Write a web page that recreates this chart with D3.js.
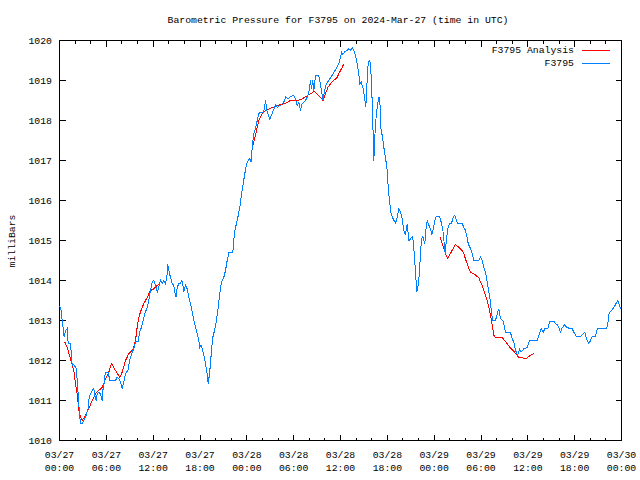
<!DOCTYPE html>
<html>
<head>
<meta charset="utf-8">
<script src="https://cdn.jsdelivr.net/npm/d3@7/dist/d3.min.js"></script>
<style>
  html, body { margin: 0; padding: 0; background: #fff; }
  svg text { font-family: "Liberation Mono", "DejaVu Sans Mono", monospace; font-size: 9.8px; fill: #000; }
</style>
</head>
<body>
<svg id="chart" width="640" height="480"></svg>
<script>
// ---- Data (hours since 2024-03-27 00:00 UTC) ----
const blueHours = [0,0.17,0.35,0.60,0.77,0.99,1.11,1.41,1.63,1.83,2.14,2.27,2.47,2.60,2.73,2.91,3.33,3.68,3.75,3.88,4.19,4.39,4.52,4.70,4.83,5.03,5.25,5.47,5.55,5.68,5.80,5.98,6.24,6.44,7.17,7.39,7.60,7.81,8.03,8.24,8.46,8.80,8.97,9.31,9.52,9.74,10.08,10.25,10.51,10.72,10.93,11.24,11.44,11.66,11.88,12.08,12.30,12.52,12.72,12.94,13.16,13.36,13.58,13.80,13.87,14.05,14.22,14.44,14.64,14.77,14.95,15.08,15.28,15.50,15.67,15.85,15.92,16.14,16.36,16.56,16.78,17.00,17.21,17.42,17.64,17.85,17.97,18.15,18.28,18.49,18.70,18.92,19.05,19.22,19.34,19.47,19.64,19.86,20.11,20.33,20.54,20.75,21.05,21.27,21.48,21.69,22.20,22.33,22.46,22.77,23.10,23.32,23.53,23.74,23.96,24.17,24.38,24.56,24.69,24.89,25.11,25.33,25.53,25.75,26.17,26.39,26.61,26.94,27.25,27.67,27.89,28.31,28.74,28.99,29.30,29.59,30.02,30.23,30.45,30.66,30.87,31.09,31.52,31.73,31.94,32.16,32.28,32.45,32.58,32.80,33.22,33.44,33.65,33.78,33.95,34.21,34.50,34.94,35.14,35.45,35.78,36.00,36.13,36.29,36.51,36.86,37.06,37.28,37.50,37.70,37.92,38.14,38.34,38.47,38.65,38.91,39.07,39.24,39.33,39.50,39.68,39.84,39.97,40.10,40.19,40.27,40.36,40.48,40.70,40.91,41.03,41.16,41.38,41.55,41.76,41.98,42.06,42.19,42.32,42.49,42.75,43.05,43.26,43.47,43.69,43.90,44.11,44.33,44.46,44.55,44.75,44.97,45.19,45.32,45.48,45.61,45.78,45.95,46.12,46.25,46.38,46.54,46.67,46.80,46.93,47.11,47.32,47.53,47.70,47.88,48.04,48.26,48.68,48.90,49.10,49.23,49.41,49.58,49.75,49.96,50.22,50.44,50.64,50.86,51.03,51.59,51.80,52.01,52.23,52.36,52.65,52.87,53.08,53.72,53.93,54.15,54.36,54.58,54.79,55.00,55.22,55.35,55.51,55.86,56.08,56.28,56.50,56.84,57.14,57.78,57.99,58.20,58.42,58.71,58.93,59.15,59.48,59.92,60.21,61.20,61.41,61.71,61.97,62.17,62.56,62.81,63.33,63.54,63.84,64.18,64.40,64.70,65.04,65.68,65.89,66.23,66.75,67.09,67.30,67.51,67.81,68.03,68.25,68.67,68.89,70.08,70.24,70.42,70.72,71.01,71.23,71.52,71.74,71.87];
const bluePressure = [1013.35,1013.3,1013.0,1012.58,1012.75,1012.8,1012.42,1012.42,1011.88,1011.9,1011.8,1011.5,1010.92,1010.58,1010.42,1010.42,1010.58,1010.8,1011.0,1011.12,1011.25,1011.3,1011.12,1011.0,1011.17,1011.2,1011.17,1011.0,1011.25,1011.38,1011.62,1011.71,1011.71,1011.5,1011.5,1011.58,1011.55,1011.46,1011.3,1011.46,1011.67,1011.77,1012.0,1012.21,1012.29,1012.47,1012.47,1012.71,1012.83,1013.0,1013.17,1013.33,1013.5,1013.75,1013.96,1014.0,1013.88,1013.71,1013.83,1014.0,1013.92,1014.0,1013.92,1014.17,1014.4,1014.21,1014.08,1013.92,1013.88,1013.71,1013.58,1013.83,1013.92,1013.93,1014.0,1013.83,1013.71,1013.88,1013.79,1013.58,1013.42,1013.21,1013.0,1012.83,1012.67,1012.5,1012.33,1012.38,1012.29,1012.13,1011.92,1011.67,1011.42,1011.67,1011.92,1012.25,1012.58,1012.75,1013.0,1013.33,1013.67,1013.96,1014.08,1014.25,1014.5,1014.69,1014.69,1015.0,1015.25,1015.5,1015.83,1016.17,1016.42,1016.67,1016.92,1017.0,1017.04,1016.96,1017.33,1017.67,1017.79,1018.0,1018.17,1018.21,1018.21,1018.5,1018.21,1018.04,1018.17,1018.4,1018.33,1018.38,1018.46,1018.6,1018.54,1018.6,1018.63,1018.54,1018.38,1018.46,1018.25,1018.42,1018.5,1018.58,1018.71,1019.0,1018.79,1019.0,1018.75,1019.13,1019.13,1018.88,1018.63,1018.5,1018.75,1018.92,1019.0,1019.13,1019.21,1019.29,1019.42,1019.58,1019.71,1019.65,1019.71,1019.75,1019.79,1019.75,1019.82,1019.75,1019.63,1019.42,1019.17,1018.92,1018.96,1018.79,1018.58,1018.33,1018.67,1019.33,1019.52,1019.42,1018.92,1018.25,1017.58,1017.0,1017.42,1017.92,1018.33,1018.58,1018.58,1017.83,1017.58,1017.33,1017.08,1016.75,1016.46,1016.17,1015.92,1015.67,1015.54,1015.43,1015.58,1015.79,1015.71,1015.54,1015.25,1015.13,1015.33,1015.42,1015.0,1015.04,1015.1,1015.0,1014.58,1014.21,1013.71,1013.88,1014.21,1014.71,1015.04,1015.1,1015.0,1014.92,1015.25,1015.5,1015.38,1015.29,1015.13,1015.29,1015.46,1015.6,1015.6,1015.46,1015.29,1015.04,1014.67,1015.04,1015.29,1015.42,1015.43,1015.58,1015.63,1015.5,1015.42,1015.42,1015.33,1015.25,1015.08,1014.92,1014.8,1014.67,1014.5,1014.5,1014.58,1014.5,1014.33,1014.21,1013.96,1013.71,1013.46,1013.17,1013.0,1013.0,1013.17,1013.29,1013.05,1012.98,1012.71,1012.7,1012.54,1012.46,1012.25,1012.13,1012.29,1012.21,1012.29,1012.33,1012.5,1012.5,1012.63,1012.79,1012.71,1012.79,1012.79,1012.98,1012.98,1012.92,1012.88,1012.71,1012.82,1012.89,1012.82,1012.79,1012.71,1012.6,1012.6,1012.67,1012.71,1012.54,1012.42,1012.5,1012.6,1012.6,1012.79,1012.79,1012.93,1013.18,1013.25,1013.32,1013.4,1013.5,1013.38,1013.29];

// Analysis series: null marks a gap between segments
const analysisHours = [0.68,0.99,1.41,1.83,2.05,2.27,2.47,2.69,2.91,3.33,3.75,4.19,4.61,5.03,5.47,5.89,6.32,6.66,7.17,7.73,8.03,8.46,8.88,9.31,9.52,9.74,9.95,10.16,10.51,10.80,11.24,11.66,12.08,12.52,12.85,
  18.0,
  24.81,24.98,25.24,25.53,25.84,26.17,26.61,27.03,27.67,28.31,28.95,29.59,30.45,31.09,31.73,32.16,32.67,33.01,33.44,33.76,34.08,34.37,34.72,35.14,35.58,35.78,36.00,36.22,36.42,
  42.0,
  48.72,49.03,49.32,49.58,49.75,50.18,50.73,51.16,51.59,51.80,52.01,52.23,52.44,52.65,53.08,53.51,53.72,53.93,54.15,54.36,54.58,54.79,55.00,55.22,55.44,55.64,55.86,56.72,57.01,57.36,57.69,57.99,58.42,58.84,59.28,59.70,60.34,60.76];
const analysisPressure = [1012.46,1012.33,1012.04,1011.75,1011.42,1011.17,1010.75,1010.58,1010.5,1010.63,1010.79,1011.0,1011.17,1011.25,1011.33,1011.54,1011.71,1011.92,1011.75,1011.58,1011.71,1012.0,1012.17,1012.25,1012.33,1012.5,1012.83,1013.08,1013.29,1013.42,1013.58,1013.75,1013.79,1013.88,1013.9,
  null,
  1017.38,1017.54,1017.75,1018.0,1018.13,1018.21,1018.27,1018.31,1018.35,1018.4,1018.43,1018.5,1018.5,1018.54,1018.62,1018.67,1018.73,1018.65,1018.58,1018.5,1018.67,1018.82,1018.92,1019.0,1019.08,1019.17,1019.25,1019.33,1019.42,
  null,
  1015.1,1014.92,1014.75,1014.6,1014.55,1014.71,1014.9,1014.83,1014.75,1014.67,1014.54,1014.42,1014.29,1014.21,1014.17,1014.1,1014.08,1013.96,1013.88,1013.75,1013.63,1013.5,1013.33,1013.13,1012.88,1012.63,1012.58,1012.58,1012.5,1012.42,1012.33,1012.27,1012.18,1012.08,1012.07,1012.04,1012.13,1012.17];

const xTickHours = [0,6,12,18,24,30,36,42,48,54,60,66,72];
const xTickDates = ["03/27","03/27","03/27","03/27","03/28","03/28","03/28","03/28","03/29","03/29","03/29","03/29","03/30"];
const xTickTimes = ["00:00","06:00","12:00","18:00","00:00","06:00","12:00","18:00","00:00","06:00","12:00","18:00","00:00"];
const yTickValues = [1010,1011,1012,1013,1014,1015,1016,1017,1018,1019,1020];

const titleText = "Barometric Pressure for F3795 on 2024-Mar-27 (time in UTC)";
const yLabelText = "milliBars";
const seriesNames = ["F3795 Analysis", "F3795"];
const seriesColors = ["#ff0000", "#0080ff"];

// ---- Drawing ----
const svg = d3.select("#chart");
const L = 59.5, R = 621.5, T = 40.5, B = 440.5;
const x = d3.scaleLinear().domain([0, 72]).range([L, R]);
const y = d3.scaleLinear().domain([1010, 1020]).range([B, T]);

svg.append("rect").attr("width", 640).attr("height", 480).attr("fill", "#fff");

// frame
svg.append("rect").attr("x", L).attr("y", T).attr("width", R - L).attr("height", B - T)
  .attr("fill", "none").attr("stroke", "#000").attr("stroke-width", 1).attr("shape-rendering", "crispEdges");

const minorHours = d3.range(0, 73, 2);
const tickG = svg.append("g").attr("stroke", "#000").attr("shape-rendering", "crispEdges");
// x ticks bottom/top
minorHours.forEach(h => {
  const major = h % 6 === 0;
  const len = major ? 6 : 3;
  const px = Math.round(x(h) - 0.5) + 0.5;
  tickG.append("line").attr("x1", px).attr("x2", px).attr("y1", B).attr("y2", B - len);
  tickG.append("line").attr("x1", px).attr("x2", px).attr("y1", T).attr("y2", T + len);
});
// y ticks left/right
yTickValues.forEach(v => {
  const py = Math.round(y(v) - 0.5) + 0.5;
  tickG.append("line").attr("x1", L).attr("x2", L + 6).attr("y1", py).attr("y2", py);
  tickG.append("line").attr("x1", R).attr("x2", R - 6).attr("y1", py).attr("y2", py);
});

// y tick labels
svg.append("g").selectAll("text").data(yTickValues).join("text")
  .attr("x", 52).attr("y", d => y(d)).attr("text-anchor", "end").attr("dy", "0.35em")
  .text(d => d);

// x tick labels (two lines)
const xl = svg.append("g").selectAll("g").data(xTickHours).join("g");
xl.append("text").attr("x", d => x(d)).attr("y", 455).attr("text-anchor", "middle").attr("dy", "0.35em")
  .text((d, i) => xTickDates[i]);
xl.append("text").attr("x", d => x(d)).attr("y", 468).attr("text-anchor", "middle").attr("dy", "0.35em")
  .text((d, i) => xTickTimes[i]);

// title and axis label
svg.append("text").attr("x", 338).attr("y", 20).attr("text-anchor", "middle").attr("dy", "0.35em").text(titleText);
svg.append("text").attr("transform", "translate(12,241) rotate(-90)").attr("text-anchor", "middle").attr("dy", "0.35em").text(yLabelText);

// lines
const blueData = blueHours.map((h, i) => [h, bluePressure[i]]);
const redData = analysisHours.map((h, i) => [h, analysisPressure[i]]);
const line = d3.line().defined(d => d[1] !== null).x(d => x(d[0])).y(d => y(d[1]));

svg.append("path").datum(redData).attr("d", line).attr("fill", "none")
  .attr("stroke", seriesColors[0]).attr("stroke-width", 1).attr("shape-rendering", "crispEdges");
svg.append("path").datum(blueData).attr("d", line).attr("fill", "none")
  .attr("stroke", seriesColors[1]).attr("stroke-width", 1).attr("shape-rendering", "crispEdges");

// legend
seriesNames.forEach((name, i) => {
  const ly = 50 + i * 13;
  svg.append("text").attr("x", 574).attr("y", ly).attr("text-anchor", "end").attr("dy", "0.35em").text(name);
  svg.append("line").attr("x1", 582).attr("x2", 610).attr("y1", ly + 0.5).attr("y2", ly + 0.5)
    .attr("stroke", seriesColors[i]).attr("stroke-width", 1).attr("shape-rendering", "crispEdges");
});
</script>
</body>
</html>
